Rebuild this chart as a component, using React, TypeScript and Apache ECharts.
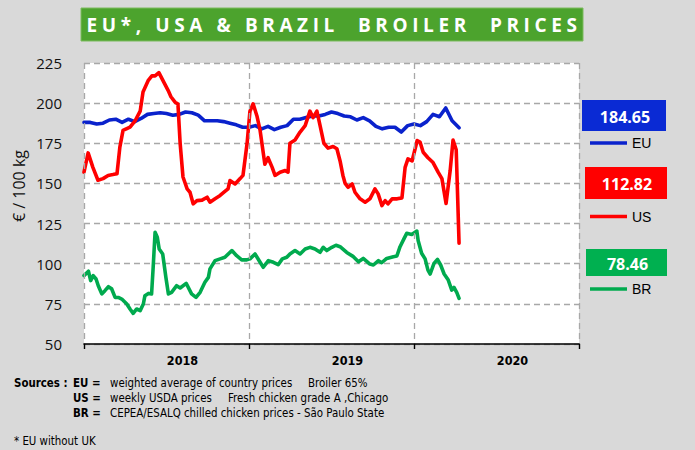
import React, { useEffect, useRef } from "react";
import * as echarts from "echarts";

const titleText = "EU*, USA & BRAZIL  BROILER  PRICES";
const yearLabels = ["2018", "2019", "2020"];
const yAxisName = "€ / 100 kg";
const seriesNames = ["EU", "US", "BR"];

// week index counted from the start of 2018 (52 weeks per year)
const euWeeks = [0, 2, 4, 6, 8, 10, 12, 14, 16, 18, 20, 22, 24, 26, 28, 30, 32, 34, 36, 38, 40, 42, 44, 46, 48, 50, 52, 54, 56, 58, 60, 62, 64, 66, 68, 70, 72, 74, 76, 78, 80, 82, 84, 86, 88, 90, 92, 94, 96, 98, 100, 102, 104, 106, 108, 110, 112, 114, 116, 118.2];
const euValues = [188, 188, 187, 187.5, 189.5, 190, 188, 190, 188.5, 190.5, 193, 193.5, 194, 193.5, 192.5, 193, 194.5, 194, 192.5, 189, 189, 189, 188.5, 187.5, 186.5, 185, 185, 186, 184, 185.5, 183.5, 185, 186, 190, 190, 191, 192, 192, 193, 194.5, 193.5, 192, 191.5, 189.5, 191, 189, 185.5, 184, 185, 185, 182, 186, 187, 186, 188.5, 193, 191.5, 197, 189, 184.65];

const usWeeks = [0, 1.3, 2.8, 4.4, 6, 7.6, 9.1, 10.4, 11.3, 12.3, 14.5, 16.1, 17.7, 18.6, 20.2, 21.4, 22.4, 23.6, 24.9, 26.5, 27.4, 28.7, 29.6, 30.3, 31.2, 32.5, 33.4, 34.4, 35.6, 37.2, 38.8, 39.7, 41.3, 42.9, 44.4, 45.4, 46, 47.6, 49.2, 50.1, 51.4, 52.3, 53.3, 54.5, 55.5, 57, 58, 59.3, 60.2, 61.8, 63.4, 64.3, 64.9, 66.5, 68.1, 69.7, 71.2, 72.2, 73.4, 74.4, 75.6, 76.9, 78.5, 79.7, 80.7, 81.6, 82.3, 83.2, 84.5, 85.4, 87, 88.6, 90.1, 91.7, 92.7, 93.9, 94.9, 95.8, 97.1, 98.7, 100.2, 101.2, 102.1, 103.4, 105, 105.9, 106.9, 108.4, 110, 111.6, 112.8, 114.1, 115.4, 116.3, 117.3, 118.2];
const usValues = [157, 169, 160, 152, 153, 155, 155.5, 156, 172.6, 183, 185, 189, 195, 207, 214, 217, 217, 219, 214, 208, 204, 200.6, 199.5, 175, 154, 146.6, 144.5, 137.3, 139.3, 139.6, 141.4, 138.3, 140.5, 142.5, 145, 146.6, 151.8, 149.7, 153, 155, 175, 195, 199.6, 192, 183, 162, 166, 160, 155, 157, 158, 157, 175, 177, 182, 186, 195, 191, 195, 186, 175, 172, 173, 171.6, 164, 155, 150, 147.6, 149.7, 144.5, 140.4, 138.3, 140.4, 146.6, 143.5, 136.2, 139.3, 137.3, 140.4, 140.4, 141, 160, 165.3, 164, 176.7, 175.8, 169.4, 166, 163, 157, 153, 137.5, 158, 177, 171, 112.82];

const brWeeks = [0, 1.4, 2.1, 2.9, 3.8, 4.5, 5.6, 6.6, 7.7, 8.7, 9.8, 10.8, 11.9, 13.5, 14.5, 15.5, 16.6, 17.7, 18.7, 19.2, 20.3, 21.3, 21.8, 22.4, 23.1, 23.7, 24.8, 25.8, 26.6, 27.6, 29.2, 30.3, 32.2, 33.9, 35.3, 36.6, 38.1, 39.2, 39.7, 41.3, 42.9, 44.4, 46.6, 48.1, 49.7, 51.3, 52.3, 53.9, 55.5, 56.5, 58.1, 59.7, 61.2, 62.5, 63.9, 64.9, 66.5, 68.1, 69.7, 71.2, 72.8, 74.4, 75.4, 76.5, 78.1, 79.4, 80.7, 82.8, 84.9, 86.5, 88, 90.1, 91.2, 92.8, 93.8, 95.4, 97.5, 98.6, 99.6, 100.9, 101.7, 103.3, 104.9, 105.3, 106.4, 107.5, 108.4, 109.1, 110.3, 111.4, 112.4, 113.5, 114.8, 115.9, 116.6, 117.5, 118.2];
const brValues = [92.6, 95.3, 89.5, 92.6, 90.5, 86.3, 81.2, 83.2, 85.7, 84.4, 79, 79, 78, 74.9, 71.8, 69.1, 71.8, 70.8, 74.9, 80.1, 81.5, 81.2, 97.8, 119.6, 116.5, 109.2, 106.1, 91.5, 81.2, 82.2, 86.3, 84.9, 87.8, 81.2, 79, 82.2, 88.4, 91.5, 96.8, 101.9, 103, 104, 108.2, 105, 102.4, 102.4, 103, 106.1, 100.9, 97.8, 101.9, 100.9, 99.4, 103, 104, 106.1, 108.2, 106.1, 109.2, 110.2, 109.2, 107.1, 110.2, 108.2, 110.2, 111.5, 110.6, 107, 104.4, 101.2, 103.3, 99.8, 99.2, 101.9, 100.6, 103.3, 104.4, 104.8, 110.6, 115.8, 118.9, 118.2, 120.3, 114.4, 106.5, 103, 96, 93.6, 100.2, 102.7, 99.2, 93.6, 89.8, 83.6, 85.3, 82, 78.46];

const sourceLines = [
  { key: "EU =", text: "weighted average of country prices", extra: "Broiler 65%" },
  { key: "US =", text: "weekly USDA prices", extra: "Fresh chicken grade A ,Chicago" },
  { key: "BR =", text: "CEPEA/ESALQ chilled chicken prices - São Paulo State", extra: "" },
];
const footnote = "* EU without UK";

const lineColors = ["#0a22cc", "#ff0000", "#00aa4e"];
const boxColors = ["#0a2ad4", "#ff0000", "#00b050"];

const NARROW = '"DejaVu Sans Condensed", "Liberation Sans Narrow", sans-serif';

export default function App() {
  const ref = useRef<HTMLDivElement>(null);

  useEffect(() => {
    if (!ref.current) return;
    const chart = echarts.init(ref.current, undefined, { renderer: "svg" });

    const allWeeks = [euWeeks, usWeeks, brWeeks];
    const allValues = [euValues, usValues, brValues];

    const series = seriesNames.map((name, i) => ({
      name,
      type: "line",
      xAxisIndex: 1,
      yAxisIndex: 0,
      showSymbol: false,
      symbol: "none",
      color: lineColors[i],
      itemStyle: { color: lineColors[i] },
      lineStyle: { color: lineColors[i], width: 3.6, join: "round", cap: "round" },
      data: allWeeks[i].map((w, k) => [w, allValues[i][k]]),
      z: 3 + i,
    }));

    const boxes = [
      { x: 582, y: 100, w: 84, h: 31 },
      { x: 585, y: 167, w: 82, h: 32 },
      { x: 586, y: 249, w: 81, h: 27 },
    ];
    const legendTops = [136, 209.5, 282];

    const graphic: any[] = [
      {
        type: "rect",
        shape: { x: 81, y: 8, width: 502, height: 33 },
        style: { fill: "#4ca32d", stroke: "#7dbb5e", lineWidth: 1 },
      },
      {
        type: "text",
        x: 19,
        y: 186,
        rotation: Math.PI / 2,
        style: {
          text: yAxisName,
          fill: "#111",
          fontSize: 16,
          fontFamily: '"Open Sans", sans-serif',
          align: "center",
          verticalAlign: "middle",
          textAlign: "center",
          textVerticalAlign: "middle",
        },
      },
    ];

    boxes.forEach((b, i) => {
      const vals = allValues[i];
      graphic.push({
        type: "rect",
        shape: { x: b.x, y: b.y, width: b.w, height: b.h },
        style: { fill: boxColors[i] },
      });
      graphic.push({
        type: "text",
        x: b.x + b.w / 2 + 1,
        y: b.y + b.h / 2 + 1,
        style: {
          text: vals[vals.length - 1].toFixed(2),
          fill: "#fff",
          fontSize: 16,
          fontWeight: "bold",
          fontFamily: '"Open Sans", sans-serif',
          align: "center",
          verticalAlign: "middle",
          textAlign: "center",
          textVerticalAlign: "middle",
        },
      });
    });

    const txt = (x: number, y: number, text: string, bold: boolean) => ({
      type: "text",
      x,
      y,
      style: {
        text,
        fill: "#000",
        fontSize: 11.4,
        fontWeight: bold ? "bold" : "normal",
        fontFamily: NARROW,
        align: "left",
        verticalAlign: "middle",
        textAlign: "left",
        textVerticalAlign: "middle",
      },
    });

    graphic.push(txt(14, 383, "Sources :", true));
    const extraX = [308, 228, 0];
    sourceLines.forEach((s, i) => {
      const y = 383 + i * 15;
      graphic.push(txt(73, y, s.key, true));
      graphic.push(txt(110, y, s.text, false));
      if (s.extra) graphic.push(txt(extraX[i], y, s.extra, false));
    });
    graphic.push(txt(14, 441, footnote, false));

    const option: any = {
      animation: false,
      backgroundColor: "#d9d9d9",
      grid: {
        left: 84,
        right: 116,
        top: 63,
        bottom: 106,
        show: true,
        backgroundColor: "#ffffff",
        borderWidth: 0,
      },
      xAxis: [
        {
          type: "category",
          data: yearLabels,
          boundaryGap: true,
          axisLine: { show: true, lineStyle: { color: "#000", width: 1.6 } },
          axisTick: { show: true, length: 5, lineStyle: { color: "#000", width: 1.4 } },
          splitLine: {
            show: true,
            lineStyle: { color: "#a8a8a8", type: [6, 4], width: 1.3 },
          },
          axisLabel: {
            color: "#000",
            fontSize: 12.5,
            fontWeight: "bold",
            fontFamily: NARROW,
            margin: 10,
            padding: [0, 0, 0, 32],
          },
          z: 10,
        },
        {
          type: "value",
          min: 0,
          max: 156,
          show: false,
        },
      ],
      yAxis: {
        type: "value",
        min: 50,
        max: 225,
        interval: 25,
        axisLine: { show: false },
        axisTick: { show: false },
        splitLine: {
          show: true,
          lineStyle: { color: "#a8a8a8", type: [6, 4], width: 1.3 },
        },
        axisLabel: {
          color: "#111",
          fontSize: 15,
          fontFamily: '"Open Sans", sans-serif',
          margin: 22,
        },
      },
      legend: seriesNames.map((name, i) => ({
        data: [name],
        left: 590,
        top: legendTops[i],
        padding: 0,
        icon: "rect",
        itemWidth: 37,
        itemHeight: 3.5,
        selectedMode: false,
        textStyle: {
          fontSize: 14,
          color: "#000",
          fontFamily: '"Liberation Sans", Arial, sans-serif',
          padding: [0, 0, 0, 0],
        },
      })),
      graphic,
      series,
    };

    chart.setOption(option);
    return () => chart.dispose();
  }, []);

  return (
    <div
      style={{
        position: "fixed",
        left: 0,
        top: 0,
        width: 695,
        height: 450,
        background: "#d9d9d9",
        overflow: "hidden",
      }}
    >
      <div ref={ref} style={{ width: 695, height: 450 }} />
      <div
        style={{
          position: "absolute",
          left: 81,
          top: 8,
          width: 502,
          height: 33,
          display: "flex",
          alignItems: "center",
          justifyContent: "center",
          color: "#ffffff",
          fontFamily: '"Open Sans", sans-serif',
          fontWeight: 700,
          fontSize: 19,
          letterSpacing: "4.6px",
          whiteSpace: "pre",
          pointerEvents: "none",
          paddingLeft: 4,
          boxSizing: "border-box",
        }}
      >
        {titleText}
      </div>
    </div>
  );
}
